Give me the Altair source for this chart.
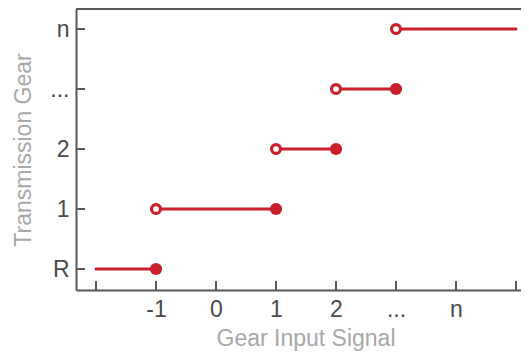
import json
import altair as alt
import pandas as pd

# ---- data ----
gears = ["R", "1", "2", "...", "n"]          # y categories (bottom to top)
gear_level = [0, 1, 2, 3, 4]
seg_start = [-2, -1, 1, 2, 3]                # segment start (input signal)
seg_end = [-1, 1, 2, 3, 5]                   # segment end (input signal)
x_tick_values = [-2, -1, 0, 1, 2, 3, 4, 5]
x_tick_labels = ["", "-1", "0", "1", "2", "...", "n", ""]
y_tick_values = gear_level
y_tick_labels = gears

RED = "#c9202b"
AXIS = "#585858"
LABEL = "#4a4a4a"
TITLE = "#a8a8a8"
FONT = "Liberation Sans"

W, H = 445, 281

seg = pd.DataFrame({"gear": gears, "y": gear_level, "x0": seg_start, "x1": seg_end})
closed_pts = seg.iloc[:4]
open_pts = seg.iloc[1:]
xt = pd.DataFrame({"x0": x_tick_values})
yt = pd.DataFrame({"y": y_tick_values})

x_scale = alt.Scale(domain=[-2 - 20 / 60, -2 - 20 / 60 + W / 60], nice=False, zero=False)
y_scale = alt.Scale(domain=[-21 / 60, -21 / 60 + H / 60], nice=False, zero=False)

x_label_expr = json.dumps(x_tick_labels) + "[datum.value + 2]"
y_label_expr = json.dumps(y_tick_labels) + "[datum.value]"

x_axis = alt.Axis(
    title="Gear Input Signal", values=x_tick_values, labelExpr=x_label_expr,
    ticks=False, tickSize=0, grid=False, domainColor=AXIS, domainWidth=2,
    labelFont=FONT, labelFontSize=23, labelColor=LABEL, labelPadding=8,
    labelFlush=False, labelOverlap=False,
    titleFont=FONT, titleFontSize=23, titleFontWeight="normal", titleColor=TITLE,
    titleX=229.5, titleY=55, titleBaseline="alphabetic", titleAlign="center",
)
y_axis = alt.Axis(
    title="Transmission Gear", values=y_tick_values, labelExpr=y_label_expr,
    ticks=False, tickSize=0, grid=False, domainColor=AXIS, domainWidth=2,
    labelFont=FONT, labelFontSize=23, labelColor=LABEL, labelPadding=7,
    labelFlush=False, labelOverlap=False, labelBaseline="middle",
    titleFont=FONT, titleFontSize=23, titleFontWeight="normal", titleColor=TITLE,
    titleX=-46, titleY=H / 2, titleAngle=-90, titleBaseline="alphabetic", titleAlign="center",
)

X = lambda f: alt.X(f, type="quantitative", scale=x_scale, axis=x_axis)
Y = lambda f: alt.Y(f, type="quantitative", scale=y_scale, axis=y_axis)

lines = alt.Chart(seg).mark_rule(color=RED, strokeWidth=3, strokeCap="round").encode(
    x=X("x0"), x2="x1", y=Y("y")
)
filled = alt.Chart(closed_pts).mark_point(
    shape="circle", filled=True, color=RED, size=150, opacity=1
).encode(x=X("x1"), y=Y("y"))
hollow = alt.Chart(open_pts).mark_point(
    shape="circle", filled=False, fill="white", fillOpacity=1, stroke=RED,
    strokeWidth=3.2, size=80, opacity=1
).encode(x=X("x0"), y=Y("y"))

x_ticks = alt.Chart(xt).mark_rule(color=AXIS, strokeWidth=2).encode(
    x=X("x0"), y=alt.value(H), y2=alt.value(H - 9)
)
y_ticks = alt.Chart(yt).mark_rule(color=AXIS, strokeWidth=2).encode(
    y=Y("y"), x=alt.value(0), x2=alt.value(9)
)
top_line = alt.Chart(yt).mark_rule(color=AXIS, strokeWidth=2).encode(
    x=alt.value(0), x2=alt.value(W), y=alt.value(0)
)

chart = alt.layer(x_ticks, y_ticks, top_line, lines, hollow, filled).properties(
    width=W, height=H,
    autosize=alt.AutoSizeParams(type="none"),
    padding={"left": 68, "top": 1, "right": 0, "bottom": 62},
    background="white",
).configure_view(stroke=None)

chart.save("out.html", embed_options={"renderer": "svg", "actions": False})
